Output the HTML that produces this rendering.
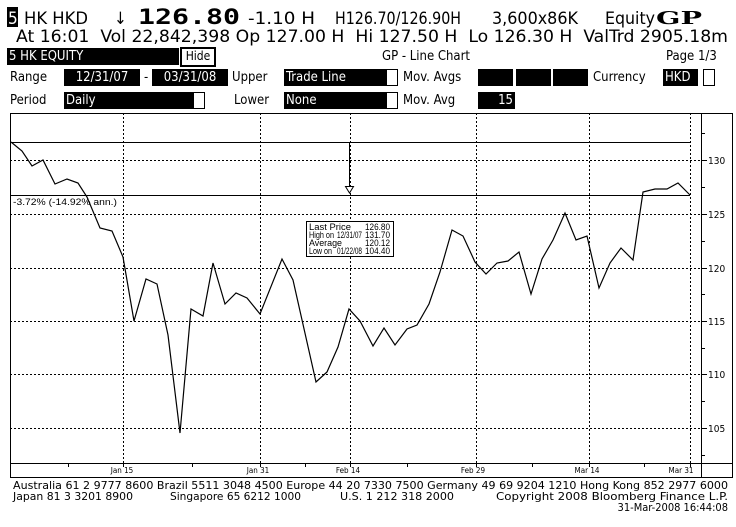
<!DOCTYPE html>
<html><head><style>
body{margin:0;background:#fff;width:736px;height:527px;overflow:hidden;font-family:"DejaVu Sans Condensed","Liberation Sans Narrow","Liberation Sans",sans-serif;}
.t{position:absolute;white-space:nowrap;color:#000;}
.b{background:#000;color:#fff;}
</style></head><body>
<div class="t b" style="left:7px;top:48px;width:170px;height:17px;font-size:13px;line-height:17px;padding-left:2px">5 HK EQUITY</div>
<div class="t" style="left:180px;top:47px;width:32px;height:16px;border:2px solid #000;font-size:12px;line-height:15px;text-align:center">Hide</div>
<div class="t" style="left:382px;top:49px;font-size:13px">GP - Line Chart</div>
<div class="t" style="left:666px;top:49px;font-size:13px">Page 1/3</div>
<div class="t" style="left:10px;top:70px;font-size:13px">Range</div>
<div class="t b" style="left:64px;top:69px;width:76px;height:17px;font-size:13px;line-height:17px;text-align:center">12/31/07</div>
<div class="t" style="left:144px;top:70px;font-size:13px">-</div>
<div class="t b" style="left:152px;top:69px;width:76px;height:17px;font-size:13px;line-height:17px;text-align:center">03/31/08</div>
<div class="t" style="left:232px;top:70px;font-size:13px">Upper</div>
<div class="t b" style="left:284px;top:69px;width:101px;height:17px;font-size:13px;line-height:17px;padding-left:2px">Trade Line</div>
<div class="t" style="left:386px;top:69px;width:10px;height:15px;border:1px solid #000"></div>
<div class="t" style="left:403px;top:70px;font-size:13px">Mov. Avgs</div>
<div class="t b" style="left:478px;top:69px;width:35px;height:17px"></div>
<div class="t b" style="left:516px;top:69px;width:35px;height:17px"></div>
<div class="t b" style="left:553px;top:69px;width:35px;height:17px"></div>
<div class="t" style="left:593px;top:70px;font-size:13px">Currency</div>
<div class="t b" style="left:663px;top:69px;width:33px;height:17px;font-size:13px;line-height:17px;padding-left:2px">HKD</div>
<div class="t" style="left:703px;top:69px;width:10px;height:15px;border:1px solid #000"></div>
<div class="t" style="left:10px;top:93px;font-size:13px">Period</div>
<div class="t b" style="left:64px;top:92px;width:128px;height:17px;font-size:13px;line-height:17px;padding-left:2px">Daily</div>
<div class="t" style="left:193px;top:92px;width:10px;height:15px;border:1px solid #000"></div>
<div class="t" style="left:234px;top:93px;font-size:13px">Lower</div>
<div class="t b" style="left:284px;top:92px;width:101px;height:17px;font-size:13px;line-height:17px;padding-left:2px">None</div>
<div class="t" style="left:386px;top:92px;width:10px;height:15px;border:1px solid #000"></div>
<div class="t" style="left:403px;top:93px;font-size:13px">Mov. Avg</div>
<div class="t b" style="left:478px;top:92px;width:35px;height:17px;font-size:13px;line-height:17px;text-align:right;padding-right:2px">15</div>

<svg class="t" style="left:0;top:0" width="736" height="527" font-family="DejaVu Sans Condensed, Liberation Sans, sans-serif">
<g font-size="17" fill="#000">
<rect x="7" y="7" width="11" height="20" fill="#000"/>
<text x="8" y="24" fill="#fff">5</text>
<text x="24" y="24" textLength="64" lengthAdjust="spacingAndGlyphs">HK HKD</text>
<text x="114" y="24">↓</text>
<text x="138" y="24" font-family="DejaVu Sans Mono, Liberation Mono, monospace" font-weight="bold" font-size="21" textLength="102" lengthAdjust="spacingAndGlyphs">126.80</text>
<text x="248" y="24" textLength="67" lengthAdjust="spacingAndGlyphs">-1.10 H</text>
<text x="335" y="24" textLength="126" lengthAdjust="spacingAndGlyphs">H126.70/126.90H</text>
<text x="492" y="24" textLength="86" lengthAdjust="spacingAndGlyphs">3,600x86K</text>
<text x="605" y="24" textLength="50" lengthAdjust="spacingAndGlyphs">Equity</text>
<text x="656" y="24" font-family="DejaVu Serif, Liberation Serif, serif" font-weight="bold" font-size="18" textLength="46" lengthAdjust="spacingAndGlyphs">GP</text>
<text x="16" y="42" textLength="712" lengthAdjust="spacingAndGlyphs">At 16:01&#160; Vol 22,842,398 Op 127.00 H&#160; Hi 127.50 H&#160; Lo 126.30 H&#160; ValTrd 2905.18m</text>
</g>
<g fill="none" stroke="#000">
<rect x="10.5" y="113.5" width="722" height="364"/>
<line x1="701.5" y1="113" x2="701.5" y2="478"/>
<line x1="10" y1="463.5" x2="733" y2="463.5"/>
<g stroke-dasharray="2,2">
<line x1="10" y1="160.5" x2="701" y2="160.5"/><line x1="10" y1="214.5" x2="701" y2="214.5"/><line x1="10" y1="268.5" x2="701" y2="268.5"/><line x1="10" y1="321.5" x2="701" y2="321.5"/><line x1="10" y1="374.5" x2="701" y2="374.5"/><line x1="10" y1="428.5" x2="701" y2="428.5"/>
<line x1="123.5" y1="113" x2="123.5" y2="463"/><line x1="260.5" y1="113" x2="260.5" y2="463"/><line x1="350.5" y1="113" x2="350.5" y2="463"/><line x1="476.5" y1="113" x2="476.5" y2="463"/><line x1="589.5" y1="113" x2="589.5" y2="463"/><line x1="690.5" y1="113" x2="690.5" y2="463"/>
</g>
<line x1="10" y1="142.5" x2="690" y2="142.5"/>
<line x1="10" y1="195.5" x2="690" y2="195.5"/>
<line x1="349.5" y1="142" x2="349.5" y2="187"/>
<path d="M345.5 186.5 L353.5 186.5 L349.5 193 Z" fill="#fff"/>
<path stroke-width="1.2" d="M11 142 L22 151 L32 166 L43 160 L55 184 L67 179 L78 183 L87 197 L100 228 L112 231 L123 257 L134 321 L146 279 L157 284 L168 335 L180 433 L191 309 L203 316 L213 263 L225 304 L236 293 L247 298 L260 314 L282 259 L293 280 L316 382 L327 372 L338 347 L349 309 L360 321 L373 346 L384 328 L395 345 L407 329 L417 325 L429 304 L440 272 L452 230 L463 236 L475 262 L486 274 L497 263 L508 261 L519 252 L531 294 L542 259 L553 240 L565 213 L576 240 L587 236 L599 288 L610 263 L621 248 L633 260 L643 192 L655 189 L667 189 L678 183 L690 195"/>
<rect x="306.5" y="221.5" width="87" height="35" fill="#fff"/>
<g stroke-width="1">
<line x1="701" y1="133.5" x2="705" y2="133.5"/><line x1="701" y1="160.5" x2="707" y2="160.5"/><line x1="701" y1="187.5" x2="705" y2="187.5"/><line x1="701" y1="214.5" x2="707" y2="214.5"/><line x1="701" y1="241.5" x2="705" y2="241.5"/><line x1="701" y1="268.5" x2="707" y2="268.5"/><line x1="701" y1="294.5" x2="705" y2="294.5"/><line x1="701" y1="321.5" x2="707" y2="321.5"/><line x1="701" y1="348.5" x2="705" y2="348.5"/><line x1="701" y1="374.5" x2="707" y2="374.5"/><line x1="701" y1="401.5" x2="705" y2="401.5"/><line x1="701" y1="428.5" x2="707" y2="428.5"/><line x1="701" y1="455.5" x2="705" y2="455.5"/>
<line x1="68.5" y1="463" x2="68.5" y2="467"/><line x1="123.5" y1="463" x2="123.5" y2="467"/><line x1="192.5" y1="463" x2="192.5" y2="467"/><line x1="260.5" y1="463" x2="260.5" y2="467"/><line x1="305.5" y1="463" x2="305.5" y2="467"/><line x1="350.5" y1="463" x2="350.5" y2="467"/><line x1="407.5" y1="463" x2="407.5" y2="467"/><line x1="476.5" y1="463" x2="476.5" y2="467"/><line x1="532.5" y1="463" x2="532.5" y2="467"/><line x1="589.5" y1="463" x2="589.5" y2="467"/><line x1="644.5" y1="463" x2="644.5" y2="467"/><line x1="690.5" y1="463" x2="690.5" y2="467"/>
</g>
</g>
<g font-size="9" fill="#000" font-family="Liberation Sans, sans-serif">
<text x="309" y="230" textLength="42" lengthAdjust="spacingAndGlyphs">Last Price</text>
<text x="309" y="238" textLength="25" lengthAdjust="spacingAndGlyphs">High on</text><text x="337" y="238" textLength="25" lengthAdjust="spacingAndGlyphs">12/31/07</text>
<text x="309" y="246" textLength="33" lengthAdjust="spacingAndGlyphs">Average</text>
<text x="309" y="254" textLength="23" lengthAdjust="spacingAndGlyphs">Low on</text><text x="337" y="254" textLength="25" lengthAdjust="spacingAndGlyphs">01/22/08</text>
<text x="365" y="230" textLength="25" lengthAdjust="spacingAndGlyphs">126.80</text>
<text x="365" y="238" textLength="25" lengthAdjust="spacingAndGlyphs">131.70</text>
<text x="365" y="246" textLength="25" lengthAdjust="spacingAndGlyphs">120.12</text>
<text x="365" y="254" textLength="25" lengthAdjust="spacingAndGlyphs">104.40</text>
<text x="13" y="205" textLength="104" lengthAdjust="spacingAndGlyphs">-3.72% (-14.92% ann.)</text>
</g>
<g font-size="10" fill="#000">
<text x="708" y="164">130</text><text x="708" y="218">125</text><text x="708" y="272">120</text><text x="708" y="325">115</text><text x="708" y="378">110</text><text x="708" y="432">105</text>
</g>
<g font-size="8" fill="#000" text-anchor="middle">
<text x="122" y="473">Jan 15</text><text x="258" y="473">Jan 31</text><text x="348" y="473">Feb 14</text><text x="473" y="473">Feb 29</text><text x="587" y="473">Mar 14</text><text x="681" y="473">Mar 31</text>
</g>
<g font-size="11" fill="#000">
<text x="13" y="489" textLength="715" lengthAdjust="spacingAndGlyphs">Australia 61 2 9777 8600 Brazil 5511 3048 4500 Europe 44 20 7330 7500 Germany 49 69 9204 1210 Hong Kong 852 2977 6000</text>
<text x="13" y="500" textLength="120" lengthAdjust="spacingAndGlyphs">Japan 81 3 3201 8900</text>
<text x="170" y="500" textLength="131" lengthAdjust="spacingAndGlyphs">Singapore 65 6212 1000</text>
<text x="340" y="500" textLength="114" lengthAdjust="spacingAndGlyphs">U.S. 1 212 318 2000</text>
<text x="496" y="500" textLength="232" lengthAdjust="spacingAndGlyphs">Copyright 2008 Bloomberg Finance L.P.</text>
<text x="728" y="511" text-anchor="end">31-Mar-2008 16:44:08</text>
</g>
</svg>
</body></html>
